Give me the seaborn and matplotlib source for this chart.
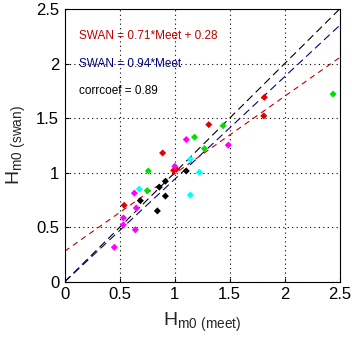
import numpy as np
import pandas as pd
import matplotlib
matplotlib.use("Agg")
import matplotlib.pyplot as plt
import seaborn as sns

# data
red_x = [0.54, 0.89, 0.99, 1.015, 1.31, 1.81, 1.815]
red_y = [0.70, 1.18, 1.02, 1.03, 1.44, 1.52, 1.69]
green_x = [1.44, 1.18, 1.27, 0.76, 0.75, 2.44]
green_y = [1.43, 1.325, 1.22, 1.015, 0.835, 1.72]
magenta_x = [1.105, 1.487, 1.0, 0.633, 0.651, 0.533, 0.533, 0.642, 0.451]
magenta_y = [1.303, 1.252, 1.058, 0.812, 0.676, 0.585, 0.521, 0.476, 0.315]
cyan_x = [1.142, 1.224, 0.678, 1.142]
cyan_y = [1.122, 1.003, 0.849, 0.794]
black_x = [1.105, 0.915, 0.86, 0.687, 0.915, 0.842]
black_y = [1.015, 0.921, 0.867, 0.743, 0.785, 0.649]

fit_slope, fit_icpt = 0.71, 0.28
prop_slope = 0.94
corrcoef = 0.89

groups = ["red", "green", "magenta", "cyan", "black"]
xs = [red_x, green_x, magenta_x, cyan_x, black_x]
ys = [red_y, green_y, magenta_y, cyan_y, black_y]
df = pd.concat([pd.DataFrame({"x": x, "y": y, "g": g}) for x, y, g in zip(xs, ys, groups)])
palette = {"red": "#e00000", "green": "#00e000", "magenta": "#ff00ff",
           "cyan": "#00ffff", "black": "#000000"}

sns.set_style("white")
plt.rcParams["font.family"] = ["Liberation Sans", "DejaVu Sans"]
plt.rcParams["mathtext.fontset"] = "custom"
plt.rcParams["mathtext.rm"] = "Liberation Sans"

fig = plt.figure(figsize=(3.52, 3.40), dpi=100)
ax = fig.add_axes([0.184, 0.1715, 0.781, 0.802])

lx = np.array([0.0, 2.5])
lines = pd.DataFrame({"x": np.concatenate([lx, lx, lx]),
                      "y": np.concatenate([lx, prop_slope * lx, fit_slope * lx + fit_icpt]),
                      "k": ["one"] * 2 + ["prop"] * 2 + ["fit"] * 2})
sns.lineplot(data=lines, x="x", y="y", hue="k", style="k",
             palette={"one": "black", "prop": "#000080", "fit": "#c00000"},
             dashes={"one": (7, 4), "prop": (7, 4), "fit": (5, 4)},
             lw=0.8, legend=False, ax=ax, zorder=2)

sns.scatterplot(data=df, x="x", y="y", hue="g", palette=palette, marker="D",
                s=13, edgecolor="none", legend=False, ax=ax, zorder=3)

ax.set_xlim(0, 2.5)
ax.set_ylim(0, 2.5)
ticks = [0, 0.5, 1, 1.5, 2, 2.5]
ticklabels = ["0", "0.5", "1", "1.5", "2", "2.5"]
ax.set_xticks(ticks)
ax.set_xticklabels(ticklabels)
ax.set_yticks(ticks)
ax.set_yticklabels(ticklabels)
ax.tick_params(direction="in", length=3, width=0.8, labelsize=12, colors="black",
               top=False, right=False, bottom=True, left=True, pad=4)
ax.grid(True, linestyle=(0, (1, 3)), color="black", linewidth=0.8)
for s in ax.spines.values():
    s.set_visible(True)
    s.set_color("black")
    s.set_linewidth(0.8)

ax.set_xlabel(r"H$_{\mathrm{m0\ (meet)}}$", fontsize=14, labelpad=6)
ax.set_ylabel(r"H$_{\mathrm{m0\ (swan)}}$", fontsize=14, labelpad=6)

ax.text(0.125, 2.25, f"SWAN = {fit_slope}*Meet + {fit_icpt}", color="#c00000",
        fontsize=8.5, va="center", ha="left")
ax.text(0.125, 1.995, f"SWAN = {prop_slope}*Meet", color="#000080",
        fontsize=8.5, va="center", ha="left")
ax.text(0.125, 1.745, f"corrcoef = {corrcoef}", color="black",
        fontsize=8.5, va="center", ha="left")

fig.savefig("out.png", dpi=100)
